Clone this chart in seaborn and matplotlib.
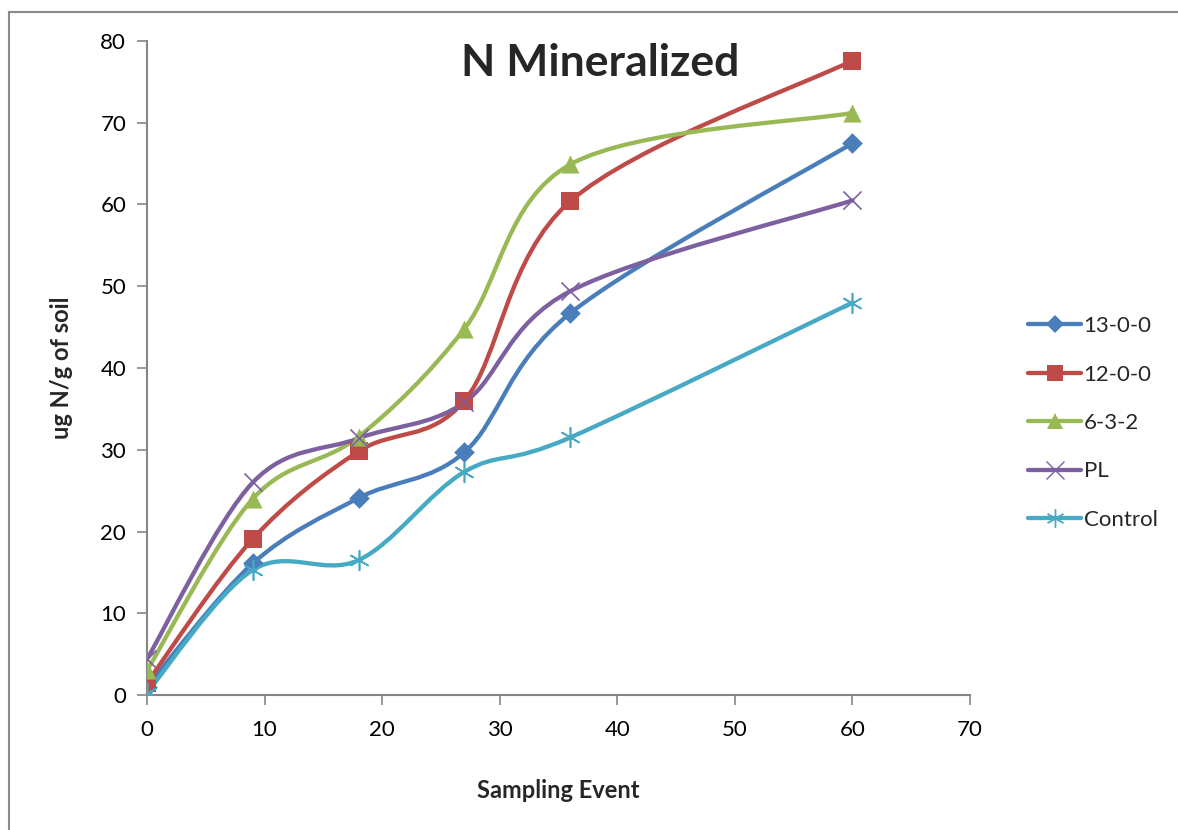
import numpy as np
import pandas as pd
import matplotlib
matplotlib.use("Agg")
import matplotlib.pyplot as plt
from matplotlib.path import Path
from matplotlib.patches import PathPatch, Rectangle
from matplotlib.lines import Line2D
import seaborn as sns

# ---- data ----
days = [0, 9, 18, 27, 36, 60]
series_names = ["13-0-0", "12-0-0", "6-3-2", "PL", "Control"]
s_13_0_0 = [1.0, 16.1, 24.1, 29.7, 46.7, 67.5]
s_12_0_0 = [1.5, 19.1, 29.8, 36.0, 60.4, 77.6]
s_6_3_2 = [3.0, 24.0, 31.6, 44.8, 64.9, 71.2]
s_pl = [4.4, 26.0, 31.4, 35.8, 49.4, 60.5]
s_control = [0.3, 15.3, 16.5, 27.3, 31.5, 48.0]
x_ticks = [0, 10, 20, 30, 40, 50, 60, 70]
y_ticks = [0, 10, 20, 30, 40, 50, 60, 70, 80]

values = [s_13_0_0, s_12_0_0, s_6_3_2, s_pl, s_control]
colors = ["#4A7EBB", "#BE4B48", "#98B954", "#7D60A0", "#46AAC5"]
markers = ["D", "s", "^", "x", (6, 2, 0)]
msizes = [110, 170, 170, 170, 200]

df = pd.DataFrame({
    "day": days * len(series_names),
    "value": [v for s in values for v in s],
    "series": [n for n in series_names for _ in days],
})

sns.set_theme(style="white")
plt.rcParams["font.family"] = ["Lato", "DejaVu Sans"]

fig = plt.figure(figsize=(11.78, 8.30), dpi=100)
ax = fig.add_axes([147 / 1178, 1 - 695 / 830, (970 - 147) / 1178, (695 - 41) / 830])


def smooth_path(xs, ys):
    pts = np.column_stack([xs, ys]).astype(float)
    n = len(pts)
    verts = [pts[0]]
    codes = [Path.MOVETO]
    for i in range(n - 1):
        p0 = pts[i - 1] if i > 0 else pts[i]
        p1 = pts[i]
        p2 = pts[i + 1]
        p3 = pts[i + 2] if i + 2 < n else pts[i + 1]
        c1 = p1 + (p2 - p0) / 6.0
        c2 = p2 - (p3 - p1) / 6.0
        verts += [c1, c2, p2]
        codes += [Path.CURVE4] * 3
    return Path(verts, codes)


for name, vals, c in zip(series_names, values, colors):
    patch = PathPatch(smooth_path(days, vals), facecolor="none", edgecolor=c,
                      lw=3.1, capstyle="round", joinstyle="round", zorder=2)
    ax.add_patch(patch)

for name, c, m, ms in zip(series_names, colors, markers, msizes):
    sub = df[df["series"] == name]
    if m in ("x",) or isinstance(m, tuple):
        sns.scatterplot(data=sub, x="day", y="value", marker=m, s=ms, color=c,
                        linewidth=1.2, ax=ax, zorder=3, legend=False)
    else:
        sns.scatterplot(data=sub, x="day", y="value", marker=m, s=ms, color=c,
                        edgecolor=c, linewidth=0, ax=ax, zorder=3, legend=False)

ax.set_xlim(0, 70)
ax.set_ylim(0, 80)
ax.set_xticks(x_ticks)
ax.set_yticks(y_ticks)
ax.set_xticklabels([str(t) for t in x_ticks])
ax.set_yticklabels([str(t) for t in y_ticks])
ax.tick_params(axis="both", labelsize=16, colors="#868686", labelcolor="black",
               direction="out", length=7, width=1.2, left=True, bottom=True)
ax.tick_params(axis="x", pad=11)
ax.tick_params(axis="y", pad=8)
for sp in ["top", "right"]:
    ax.spines[sp].set_visible(False)
for sp in ["left", "bottom"]:
    ax.spines[sp].set_color("#868686")
    ax.spines[sp].set_linewidth(1.5)
ax.grid(False)
ax.set_xlabel("Sampling Event", fontsize=17, fontweight="bold", labelpad=28)
ax.set_ylabel("ug N/g of soil", fontsize=17, fontweight="bold", labelpad=20)

fig.text(600 / 1178, 1 - 63 / 830, "N Mineralized", fontsize=32, fontweight="bold",
         ha="center", va="center")

handles = []
for name, c, m in zip(series_names, colors, markers):
    if m == "x" or isinstance(m, tuple):
        h = Line2D([], [], color=c, lw=3.1, marker=m, markersize=13,
                   markeredgewidth=1.0, markeredgecolor=c)
    else:
        h = Line2D([], [], color=c, lw=3.1, marker=m,
                   markersize=9 if m == "D" else 12, markeredgewidth=0)
    handles.append(h)
fig.legend(handles, series_names, loc="center left",
           bbox_to_anchor=(1008 / 1178, 1 - 423 / 830), frameon=False,
           fontsize=16, handlelength=2.4, handletextpad=0.1, labelspacing=1.28)

fig.patches.append(Rectangle((9 / 1178, -0.05), 1.2, 1 - 12 / 830 + 0.05,
                             transform=fig.transFigure, fill=False,
                             edgecolor="#8A8A8A", lw=1.5))

fig.savefig("out.png", dpi=100)
